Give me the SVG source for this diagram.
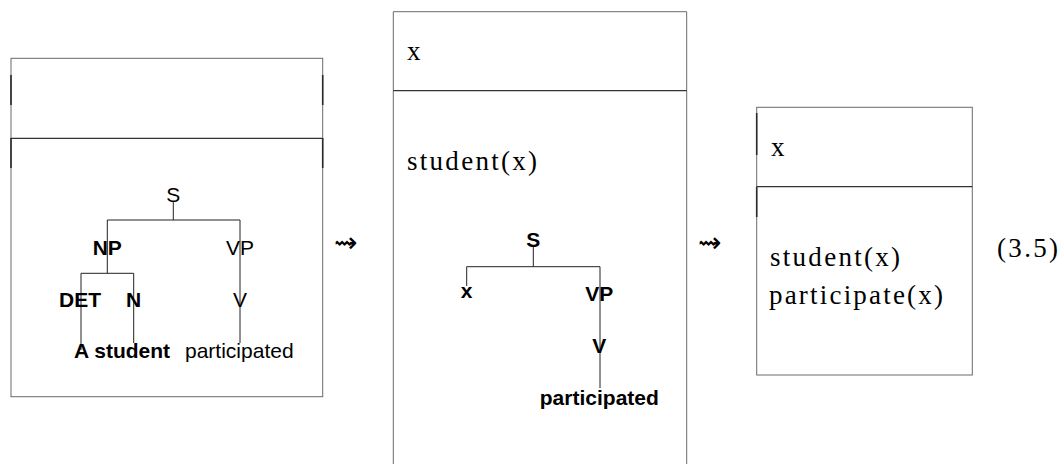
<svg xmlns="http://www.w3.org/2000/svg" width="1063" height="464" viewBox="0 0 1063 464">
<style>
.box{fill:none;stroke:#6a6a6a;stroke-width:1}
.div{stroke:#333;stroke-width:1.2}
.dark{stroke:#2a2a2a;stroke-width:1.6}
.tl{stroke:#222;stroke-width:1;fill:none}
.sans{font-family:"Liberation Sans",Arial,sans-serif;font-size:21px;fill:#000}
.b{font-weight:bold}
.serif{font-family:"Liberation Serif","Times New Roman",serif;font-size:27px;fill:#000}
.arr{font-family:"Noto Sans CJK JP","DejaVu Sans",sans-serif;font-size:28px;font-weight:300;fill:#000}
.m{text-anchor:middle}
</style>
<rect width="1063" height="464" fill="#fff"/>
<g id="drs1">
<rect class="box" x="11" y="58.3" width="311.7" height="338.4"/>
<line class="div" x1="11" y1="138.3" x2="322.7" y2="138.3"/>
<line class="dark" x1="11" y1="75" x2="11" y2="105"/>
<line class="dark" x1="11" y1="138" x2="11" y2="168"/>
<line class="dark" x1="322.7" y1="75" x2="322.7" y2="105"/>
<line class="dark" x1="322.7" y1="138" x2="322.7" y2="168"/>
</g>
<g id="tree1-lines">
<path class="tl" d="M173.3 202V220M107.3 220H240M107.3 220V273.3M240 220V343M81 273.3H133.7M81 273.3V350M133.7 273.3V343"/>
</g>
<g id="tree1-labels">
<text class="sans m" x="173.3" y="201.5">S</text>
<text class="sans b m" x="107.3" y="255">NP</text>
<text class="sans m" x="240" y="255">VP</text>
<text class="sans b m" x="80" y="306.7">DET</text>
<text class="sans b m" x="133.7" y="306.7">N</text>
<text class="sans m" x="240" y="306.7">V</text>
<text class="sans b" x="74" y="358.3">A student</text>
<text class="sans" x="185" y="358.3">participated</text>
</g>
<g id="arrow1"><text class="arr m" x="345.5" y="252">⇝</text></g>
<g id="drs2">
<path class="box" d="M393.3 470V11.7H686.7V470"/>
<line class="div" x1="393.3" y1="90.7" x2="686.7" y2="90.7"/>
<text class="serif" x="407" y="59.5">x</text>
<text class="serif" x="407" y="170" textLength="130" lengthAdjust="spacing">student(x)</text>
</g>
<g id="tree2-lines">
<path class="tl" d="M533.3 247V266.7M466.7 266.7H600M466.7 266.7V286M600 266.7V388"/>
</g>
<g id="tree2-labels">
<text class="sans b m" x="533.3" y="246.7">S</text>
<text class="sans b m" x="466.7" y="298.3">x</text>
<text class="sans b m" x="599.3" y="300.7">VP</text>
<text class="sans b m" x="599.3" y="353.3">V</text>
<text class="sans b m" x="599.3" y="405">participated</text>
</g>
<g id="arrow2"><text class="arr m" x="709" y="252">⇝</text></g>
<g id="drs3">
<rect class="box" x="756.7" y="107.3" width="215.6" height="267.7"/>
<line class="div" x1="756.7" y1="186.7" x2="972.3" y2="186.7"/>
<line class="dark" x1="756.7" y1="113" x2="756.7" y2="155"/>
<line class="dark" x1="756.7" y1="187" x2="756.7" y2="217"/>
<text class="serif" x="771" y="155.5">x</text>
<text class="serif" x="770" y="266" textLength="130" lengthAdjust="spacing">student(x)</text>
<text class="serif" x="769" y="304" textLength="174" lengthAdjust="spacing">participate(x)</text>
</g>
<g id="eqnum"><text class="serif" x="997" y="257" textLength="61" lengthAdjust="spacing">(3.5)</text></g>
</svg>
